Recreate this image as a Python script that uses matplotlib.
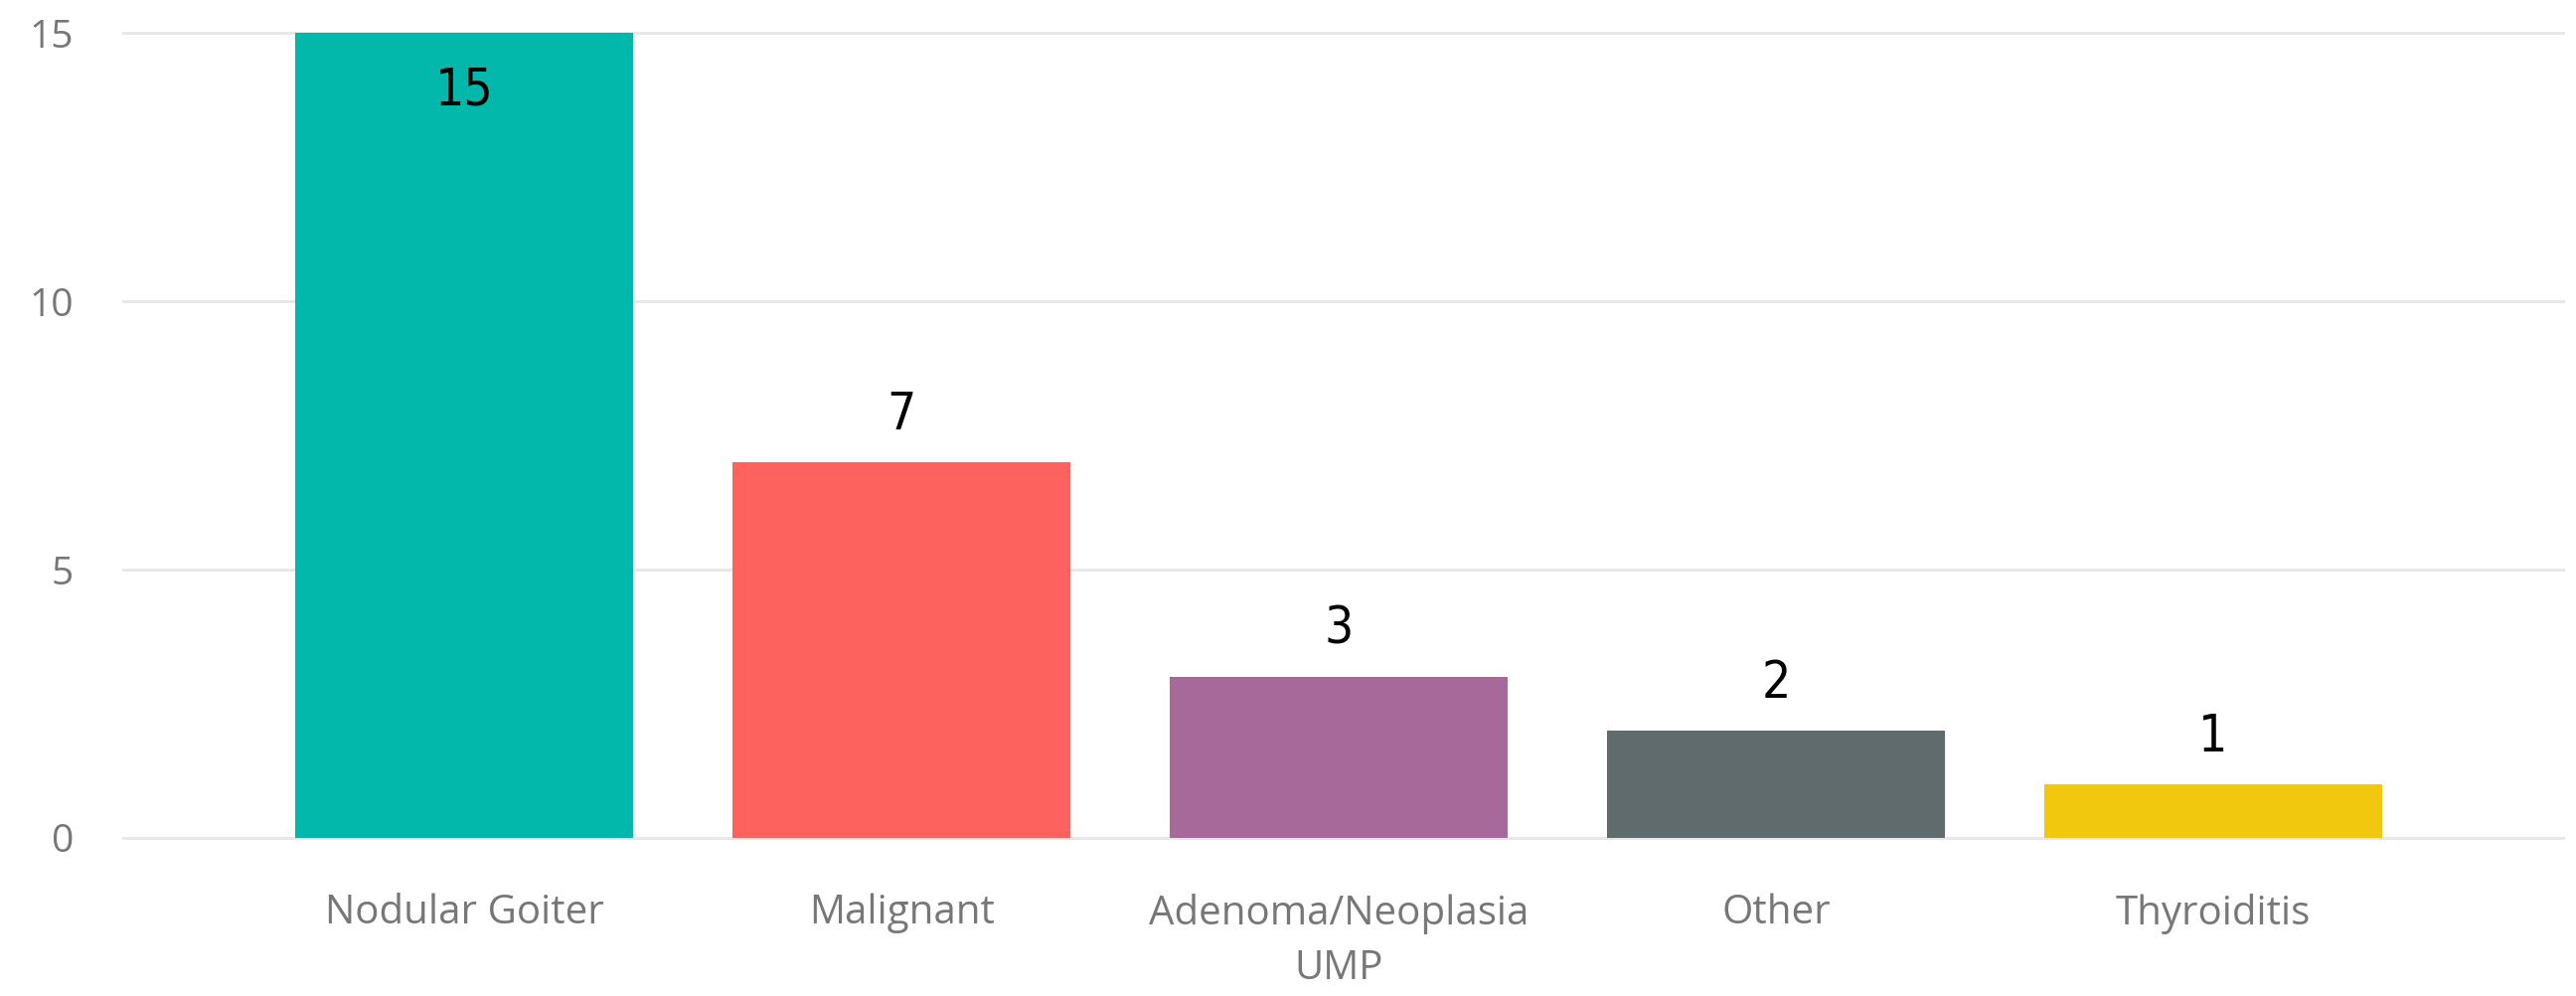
import matplotlib
matplotlib.use("Agg")
import matplotlib.pyplot as plt

categories = ["Nodular Goiter", "Malignant", "Adenoma/Neoplasia\nUMP", "Other", "Thyroiditis"]
counts = [15, 7, 3, 2, 1]
colors = ["#01B8AA", "#FD625E", "#A66999", "#5F6B6D", "#F2C80F"]
yticks = [0, 5, 10, 15]

plt.rcParams['font.family'] = ['Open Sans', 'DejaVu Sans']

fig = plt.figure(figsize=(25.92, 10.02), dpi=100)
ax = fig.add_axes([0.0478, 0.1587, 0.9472, 0.8083])

x = list(range(len(categories)))
bars = ax.bar(x, counts, width=0.774, color=colors, zorder=3)

ax.set_xlim(-0.78, 4.80)
ax.set_ylim(0, 15)
ax.set_yticks(yticks)
ax.yaxis.grid(True, color="#E8E8E8", linewidth=2.2, zorder=0)
for ln in ax.get_ygridlines():
    ln.set_clip_on(False)
ax.set_axisbelow(True)
for s in ax.spines.values():
    s.set_visible(False)
ax.tick_params(axis="both", length=0, colors="#777777", labelsize=28)
ax.tick_params(axis="y", pad=36)
ax.tick_params(axis="x", pad=40)
ax.set_xticks(x)
ax.set_xticklabels(categories, fontsize=29, color="#777777", linespacing=1.5)

for b, v in zip(bars, counts):
    cx = b.get_x() + b.get_width() / 2
    off = -42 if v >= 14 else 34
    ax.annotate(str(v), (cx, v), xytext=(0, off), textcoords="offset points",
                ha="center", va="center", fontsize=37, color="black",
                family="DejaVu Sans", fontstretch="condensed", zorder=4)

fig.savefig("out.png", dpi=100, facecolor="white")
